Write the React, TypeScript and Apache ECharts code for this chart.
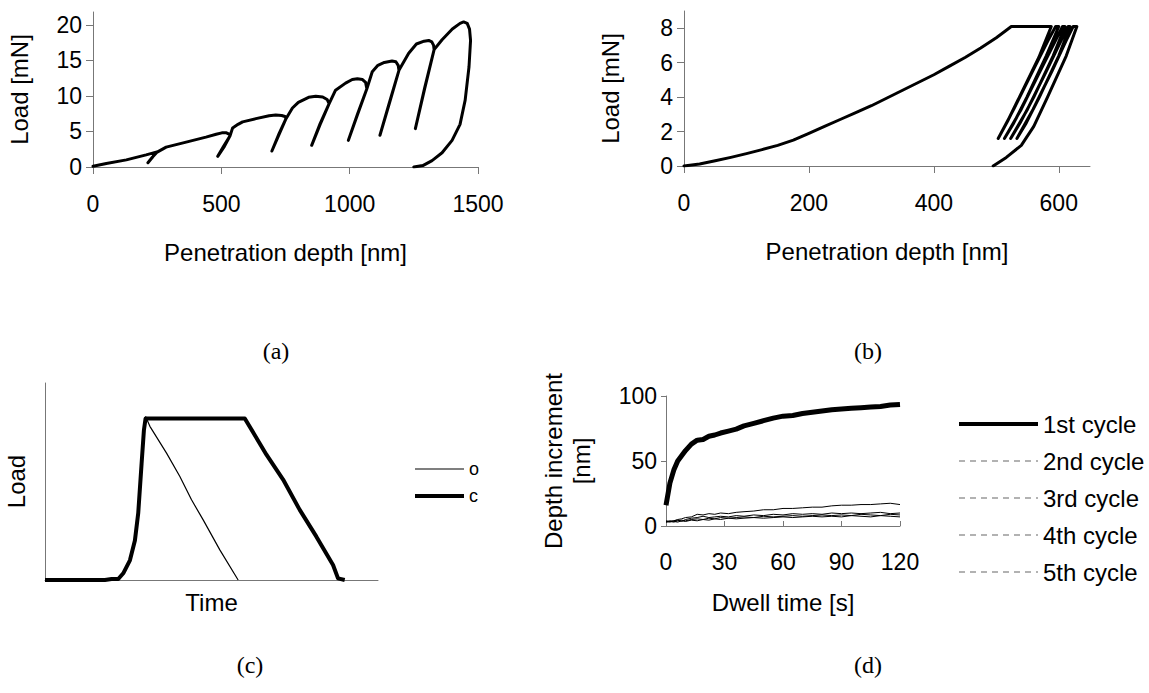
import React, { useEffect, useRef } from 'react';
import * as echarts from 'echarts';

// ---------- Panel (a): cyclic loading, [depth nm, load mN] along the recorded path ----------
const pathA: number[][] = [
  [0, 0.1], [52, 0.5], [130, 1.0], [207, 1.7], [246, 2.1],
  [230, 1.3], [214, 0.6], [232, 1.4], [250, 2.1],
  [285, 2.8], [363, 3.5], [440, 4.2], [480, 4.6], [502, 4.8], [520, 4.8], [532, 4.6], [534, 4.4],
  [512, 2.9], [486, 1.5], [510, 3.0], [534, 4.4],
  [544, 5.5], [565, 6.0], [583, 6.35], [635, 6.8], [686, 7.2], [712, 7.3], [735, 7.25], [748, 7.1], [752, 6.8],
  [725, 4.6], [697, 2.25], [725, 4.7], [752, 6.8],
  [777, 8.3], [800, 9.1], [840, 9.8], [868, 9.95], [895, 9.85], [912, 9.5], [920, 8.9],
  [885, 6.0], [852, 3.05], [885, 6.1], [920, 8.9],
  [945, 10.8], [984, 11.8], [1010, 12.3], [1030, 12.4], [1050, 12.3], [1062, 11.9], [1067, 11.0],
  [1030, 7.3], [995, 3.75], [1030, 7.4], [1067, 11.0],
  [1088, 13.4], [1110, 14.3], [1135, 14.7], [1165, 14.9], [1180, 14.8], [1189, 14.3], [1192, 13.6],
  [1155, 9.0], [1118, 4.46], [1155, 9.1], [1192, 13.6],
  [1230, 16.0], [1260, 17.3], [1290, 17.7], [1308, 17.8], [1320, 17.6], [1327, 17.1], [1329, 16.5],
  [1292, 11.0], [1256, 5.4], [1292, 11.1], [1329, 16.5],
  [1360, 17.9], [1400, 19.4], [1430, 20.2], [1444, 20.4], [1458, 20.2], [1467, 19.4], [1471, 17.8],
  [1465, 14.1], [1450, 9.4], [1430, 6.0], [1399, 3.75], [1360, 2.0], [1321, 0.9], [1285, 0.2], [1250, 0],
];
const ticksAx = [0, 500, 1000, 1500];
const ticksAy = [0, 5, 10, 15, 20];

// ---------- Panel (b): loading to 8 mN, then five hold/unload cycles ----------
const pathB: number[][] = [
  [0, 0], [25, 0.12], [50, 0.3], [75, 0.5], [100, 0.72], [125, 0.95], [150, 1.2], [175, 1.5], [200, 1.9],
  [225, 2.3], [250, 2.7], [275, 3.1], [300, 3.5], [325, 3.95], [350, 4.4], [375, 4.85], [400, 5.3],
  [425, 5.8], [450, 6.3], [475, 6.85], [500, 7.45], [515, 7.85], [524, 8.1], [588, 8.1],
  [568, 6.3], [537, 4.0], [518, 2.6], [503, 1.6],
  [528, 3.3], [558, 5.5], [583, 7.3], [595, 8.1], [600, 8.1],
  [580, 6.4], [549, 4.0], [528, 2.5], [513, 1.6],
  [540, 3.3], [570, 5.5], [595, 7.3], [606, 8.1], [610, 8.1],
  [591, 6.4], [560, 4.0], [538, 2.5], [523, 1.6],
  [550, 3.3], [580, 5.5], [604, 7.3], [615, 8.1], [618, 8.1],
  [600, 6.4], [569, 4.0], [548, 2.5], [533, 1.6],
  [559, 3.3], [589, 5.5], [612, 7.3], [623, 8.1], [629, 8.1],
  [612, 6.4], [582, 4.0], [560, 2.3], [540, 1.2], [516, 0.5], [495, 0],
];
const ticksBx = [0, 200, 400, 600];
const ticksBy = [0, 2, 4, 6, 8];

// ---------- Panel (c): load vs time schemes ----------
const timeO = [0, 18, 20, 22, 23.5, 25.5, 27, 28, 29, 29.7, 30.2, 31.5, 36.5, 40.5, 44, 47.5, 52.5, 58];
const loadO = [0, 0, 0.5, 0.5, 3.4, 10, 20, 34, 59, 76, 83, 78, 64.4, 52.5, 40.7, 30.5, 15.3, 0];
const timeC = [0, 18, 20, 22, 23.5, 25.5, 27, 28, 29, 29.7, 30.2, 60, 66.5, 71.5, 76.5, 81.5, 86.5, 88, 90];
const loadC = [0, 0, 0.5, 0.5, 3.4, 10, 20, 34, 59, 76, 82, 82, 63.6, 51, 35.6, 22, 7.6, 0.8, 0];

// ---------- Panel (d): depth increment during dwell ----------
const dwellTime = [0, 2, 4, 6, 8, 10, 13, 16, 19, 22, 25, 28, 32, 36, 40, 45, 50, 55, 60, 65, 70, 75, 80, 85, 90, 95, 100, 105, 110, 115, 120];
const cycle1 = [16, 33, 43, 50, 54, 58, 63, 66, 66.5, 69, 70, 71.5, 73, 74.5, 77, 79, 81, 83, 84.5, 85, 86.5, 87.5, 88.5, 89.5, 90, 90.5, 91, 91.5, 92, 93, 93.5];
const cycle2 = [3, 3.5, 4, 5, 5.5, 6.5, 7, 9, 8.5, 9.5, 9, 10, 9.5, 10.5, 11, 11.5, 12.5, 12.5, 13.5, 13.5, 14, 14.5, 14.5, 15.5, 16, 16, 16.5, 16.5, 17, 17.5, 16.5];
const cycle3 = [3.5, 3, 4, 4.5, 3.5, 5, 6, 6.5, 7.5, 6.5, 7, 7.5, 7, 8, 7.5, 8.5, 8, 9, 8.5, 9.5, 9, 9.5, 9, 10, 9.5, 10, 9.5, 10, 10.5, 9.5, 10];
const cycle4 = [4, 3.5, 3, 4, 4.5, 4, 5, 5.5, 5, 6, 5.5, 6.5, 6, 6.5, 7, 6.5, 7.5, 7, 7.5, 8, 7.5, 8, 8.5, 8, 8.5, 8, 9, 8.5, 8, 9, 8.5];
const cycle5 = [3, 4, 3.5, 3, 4, 3.5, 4.5, 4, 5, 4.5, 5.5, 5, 6, 5.5, 6, 6.5, 6, 6.5, 7, 6.5, 7, 7.5, 7, 7.5, 7, 8, 7.5, 7, 8, 7.5, 7];
const cycleNames = ['1st cycle', '2nd cycle', '3rd cycle', '4th cycle', '5th cycle'];

const FONT = '"Liberation Sans", Arial, sans-serif';
const SERIF = '"Liberation Serif", "Times New Roman", serif';
const AXIS_COLOR = '#777';

const zip = (xs: number[], ys: number[]) => xs.map((x, i) => [x, ys[i]]);

function valueAxis(opts: any) {
  const { gridIndex, min, max, ticks, tickInside, tickLen, labelMargin, name, nameGap, vertical, fontSize = 23, nameSize = 24 } = opts;
  const a: any = {
    type: 'value',
    gridIndex,
    min,
    max,
    splitLine: { show: false },
    axisLine: { show: true, onZero: false, lineStyle: { color: AXIS_COLOR, width: 1 } },
    axisTick: ticks
      ? { show: true, inside: !!tickInside, length: tickLen ?? 7, customValues: ticks, lineStyle: { color: AXIS_COLOR } }
      : { show: false },
    axisLabel: ticks
      ? { show: true, customValues: ticks, margin: labelMargin, color: '#000', fontSize, fontFamily: FONT, formatter: (v: number) => String(v) }
      : { show: false },
    name,
    nameLocation: 'middle',
    nameGap,
    nameTextStyle: { color: '#000', fontSize: nameSize, fontFamily: FONT, lineHeight: nameSize + 4 },
  };
  if (vertical) a.nameRotate = 90;
  return a;
}

const hiddenSymbol = { opacity: 0, color: 'rgba(0,0,0,0)', borderWidth: 0 };

export default function App() {
  const ref = useRef<HTMLDivElement>(null);
  useEffect(() => {
    document.body.style.margin = '0';
    const chart = echarts.init(ref.current!, null, { renderer: 'svg' });
    const blackLine = (w: number) => ({ color: '#000', width: w });
    const caption = (text: string, x: number, y: number) => ({
      type: 'text',
      style: { text, x, y, fontSize: 24, fontFamily: SERIF, fill: '#000', textAlign: 'center', textVerticalAlign: 'middle' },
    });
    const option: any = {
      animation: false,
      backgroundColor: '#fff',
      textStyle: { fontFamily: FONT },
      grid: [
        { left: 93, top: 12, width: 385, height: 155 },
        { left: 684, top: 11, width: 406, height: 155 },
        { left: 45, top: 383, width: 333, height: 197 },
        { left: 666, top: 396, width: 234, height: 130 },
      ],
      xAxis: [
        valueAxis({ gridIndex: 0, min: 0, max: 1500, ticks: ticksAx, tickLen: 7, labelMargin: 25, name: 'Penetration depth [nm]', nameGap: 71 }),
        valueAxis({ gridIndex: 1, min: 0, max: 650, ticks: ticksBx, tickLen: 7, labelMargin: 25, name: 'Penetration depth [nm]', nameGap: 71 }),
        valueAxis({ gridIndex: 2, min: 0, max: 100, ticks: null, name: 'Time', nameGap: 8 }),
        valueAxis({ gridIndex: 3, min: 0, max: 120, ticks: [0, 30, 60, 90, 120], tickInside: true, tickLen: 5, labelMargin: 24, name: 'Dwell time [s]', nameGap: 62 }),
      ],
      yAxis: [
        valueAxis({ gridIndex: 0, min: 0, max: 21.8, ticks: ticksAy, tickLen: 7, labelMargin: 11, name: 'Load [mN]', nameGap: 60, vertical: true }),
        valueAxis({ gridIndex: 1, min: 0, max: 9, ticks: ticksBy, tickLen: 7, labelMargin: 11, name: 'Load [mN]', nameGap: 60, vertical: true }),
        valueAxis({ gridIndex: 2, min: 0, max: 100, ticks: null, name: 'Load', nameGap: 15, vertical: true }),
        valueAxis({ gridIndex: 3, min: 0, max: 100, ticks: [0, 50, 100], tickLen: 5, labelMargin: 9, name: 'Depth increment\n[nm]', nameGap: 71, vertical: true }),
      ],
      legend: [
        {
          orient: 'vertical',
          left: 408,
          top: 455,
          itemWidth: 49,
          itemHeight: 6,
          itemGap: 9,
          selectedMode: false,
          textStyle: { fontSize: 18, fontFamily: FONT, color: '#000' },
          data: [
            { name: 'o', lineStyle: { color: '#000', width: 1.2 }, itemStyle: hiddenSymbol },
            { name: 'c', lineStyle: { color: '#000', width: 4 }, itemStyle: hiddenSymbol },
          ],
        },
        {
          orient: 'vertical',
          left: 952,
          top: 407,
          itemWidth: 79,
          itemHeight: 6,
          itemGap: 13,
          selectedMode: false,
          textStyle: { fontSize: 24, fontFamily: FONT, color: '#000' },
          data: cycleNames.map((n, i) => ({
            name: n,
            itemStyle: hiddenSymbol,
            lineStyle: i === 0 ? { color: '#000', width: 4, type: 'solid' } : { color: '#666', width: 1.2, type: [6, 5] },
          })),
        },
      ],
      series: [
        { name: 'a', type: 'line', xAxisIndex: 0, yAxisIndex: 0, data: pathA, showSymbol: false, symbol: 'none', lineStyle: { ...blackLine(3), join: 'round', cap: 'round' }, itemStyle: { color: '#000' } },
        { name: 'b', type: 'line', xAxisIndex: 1, yAxisIndex: 1, data: pathB, showSymbol: false, symbol: 'none', lineStyle: { ...blackLine(3), join: 'round', cap: 'round' }, itemStyle: { color: '#000' } },
        { name: 'o', type: 'line', xAxisIndex: 2, yAxisIndex: 2, data: zip(timeO, loadO), showSymbol: false, symbol: 'none', lineStyle: blackLine(1.2), itemStyle: { color: '#000' } },
        { name: 'c', type: 'line', xAxisIndex: 2, yAxisIndex: 2, data: zip(timeC, loadC), showSymbol: false, symbol: 'none', lineStyle: { ...blackLine(4), join: 'round' }, itemStyle: { color: '#000' } },
        ...[cycle5, cycle4, cycle3, cycle2].map((vals, k) => ({
          name: cycleNames[4 - k], type: 'line', xAxisIndex: 3, yAxisIndex: 3, data: zip(dwellTime, vals), showSymbol: false, symbol: 'none', lineStyle: blackLine(1), itemStyle: { color: '#000' },
        })),
        { name: cycleNames[0], type: 'line', xAxisIndex: 3, yAxisIndex: 3, data: zip(dwellTime, cycle1), showSymbol: false, symbol: 'none', lineStyle: { ...blackLine(5), join: 'round' }, itemStyle: { color: '#000' } },
      ],
      graphic: [
        caption('(a)', 276, 351),
        caption('(b)', 868, 351),
        caption('(c)', 250, 665),
        caption('(d)', 868, 665),
      ],
    };
    chart.setOption(option);
    return () => chart.dispose();
  }, []);
  return <div ref={ref} style={{ width: 1149, height: 693, background: '#fff', overflow: 'hidden' }} />;
}
